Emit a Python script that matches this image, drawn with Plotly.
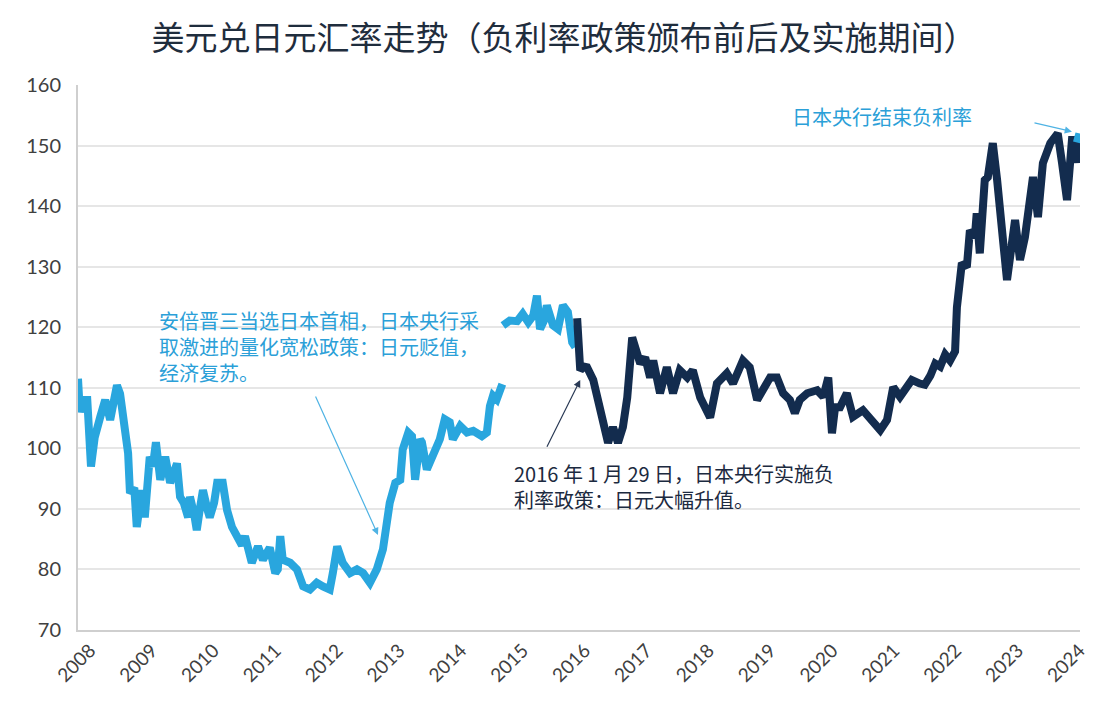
import plotly.graph_objects as go

# ---- data (decimal years, USD/JPY) ----
years_a = [2008.00, 2008.03, 2008.08, 2008.15, 2008.21, 2008.27, 2008.36, 2008.44, 2008.52, 2008.58,
           2008.63, 2008.68, 2008.73, 2008.81, 2008.84, 2008.91, 2008.95, 2009.03, 2009.08, 2009.16,
           2009.21, 2009.26, 2009.33, 2009.41, 2009.49, 2009.55, 2009.60, 2009.65, 2009.71, 2009.78,
           2009.81, 2009.88, 2009.92, 2009.97, 2010.02, 2010.09, 2010.13, 2010.20, 2010.25, 2010.34,
           2010.41, 2010.49, 2010.57, 2010.65, 2010.70, 2010.81, 2010.91, 2010.99, 2011.10, 2011.19,
           2011.23, 2011.27, 2011.31, 2011.43, 2011.54, 2011.64, 2011.75, 2011.86, 2011.96, 2012.07,
           2012.12, 2012.19, 2012.28, 2012.40, 2012.51, 2012.61, 2012.72, 2012.83, 2012.93, 2012.99,
           2013.04, 2013.13, 2013.21, 2013.25, 2013.34, 2013.40, 2013.45, 2013.53, 2013.56, 2013.64,
           2013.74, 2013.85, 2013.93, 2014.01, 2014.06, 2014.18, 2014.29, 2014.39, 2014.53, 2014.61,
           2014.66, 2014.71, 2014.77, 2014.82, 2014.86]
usdjpy_a = [111.5, 106.0, 108.0, 108.0, 97.0, 101.8, 105.2, 108.0, 104.7, 108.5,
            110.4, 109.0, 105.8, 99.2, 92.6, 93.5, 87.0, 93.1, 88.6, 98.6,
            97.0, 101.0, 94.8, 98.6, 94.3, 96.0, 97.5, 92.0, 91.0, 88.6,
            92.0, 89.0, 86.5, 90.0, 93.1, 90.0, 88.6, 91.0, 94.3, 94.3,
            89.8, 87.0, 85.4, 84.0, 85.5, 81.1, 83.8, 81.6, 83.6, 79.4,
            80.0, 85.5, 81.6, 81.1, 80.0, 77.2, 76.7, 77.8, 77.2, 76.7,
            79.4, 83.8, 81.1, 79.4, 80.0, 79.4, 77.8, 80.0, 83.3, 87.1,
            91.0, 94.3, 94.8, 99.8, 102.6, 102.0, 94.8, 101.5, 101.0, 96.5,
            99.3, 101.5, 104.8, 104.3, 101.5, 103.7, 102.6, 102.9, 102.0, 102.6,
            107.0, 108.7, 108.1, 110.3, 110.6]

years_b = [2014.87, 2014.98, 2015.10, 2015.19, 2015.28, 2015.36, 2015.42, 2015.47, 2015.53, 2015.58,
           2015.68, 2015.76, 2015.84, 2015.92, 2015.99, 2016.04]
usdjpy_b = [120.3, 121.1, 121.0, 122.2, 120.8, 121.9, 125.2, 119.7, 121.0, 123.6,
            120.3, 119.7, 123.6, 122.5, 117.5, 116.7]

years_c = [2016.07, 2016.12, 2016.18, 2016.23, 2016.33, 2016.41, 2016.49, 2016.57, 2016.65, 2016.73,
           2016.81, 2016.88, 2016.96, 2017.01, 2017.09, 2017.17, 2017.25, 2017.30, 2017.41, 2017.52,
           2017.62, 2017.73, 2017.85, 2017.94, 2018.06, 2018.22, 2018.33, 2018.49, 2018.59, 2018.75,
           2018.86, 2018.98, 2019.08, 2019.19, 2019.30, 2019.40, 2019.51, 2019.59, 2019.67, 2019.79,
           2019.95, 2020.05, 2020.13, 2020.16, 2020.19, 2020.24, 2020.32, 2020.43, 2020.53, 2020.69,
           2020.81, 2020.97, 2021.08, 2021.18, 2021.29, 2021.40, 2021.48, 2021.61, 2021.69, 2021.78,
           2021.86, 2021.94, 2022.02, 2022.10, 2022.18, 2022.21, 2022.29, 2022.37, 2022.42, 2022.50,
           2022.53, 2022.58, 2022.66, 2022.71, 2022.79, 2022.86, 2022.91, 2022.96, 2023.02, 2023.07,
           2023.15, 2023.23, 2023.31, 2023.39, 2023.44, 2023.52, 2023.60, 2023.72, 2023.84, 2023.91,
           2023.99, 2024.07, 2024.15, 2024.17]
usdjpy_c = [121.5, 112.9, 113.5, 113.4, 111.3, 108.0, 104.7, 100.9, 103.5, 100.9,
            103.5, 108.4, 118.3, 116.7, 114.0, 115.0, 111.7, 114.5, 109.1, 113.4,
            109.1, 112.9, 111.7, 112.9, 108.4, 105.1, 110.7, 112.4, 110.7, 114.5,
            113.4, 108.0, 110.1, 111.7, 111.7, 109.1, 108.0, 105.8, 108.0, 109.1,
            109.6, 108.5, 111.7, 108.0, 102.5, 106.8, 106.8, 109.1, 105.2, 106.3,
            104.7, 103.0, 104.7, 110.1, 108.5, 110.1, 111.3, 110.7, 110.5, 112.0,
            114.0, 113.5, 115.5, 114.5, 116.0, 123.3, 130.6, 129.9, 136.0, 134.9,
            138.8, 132.2, 144.3, 144.8, 150.4, 144.3, 137.7, 133.9, 127.8, 131.6,
            137.7, 131.1, 134.9, 141.0, 144.8, 138.2, 147.1, 150.4, 152.0, 147.1,
            141.0, 150.9, 150.9, 147.1]

years_d = [2024.15, 2024.19]
usdjpy_d = [150.5, 152.0]

tick_years = list(range(2008, 2025))
tick_labels = [str(y) for y in tick_years]

LIGHT = "#29a6de"
DARK = "#132c4e"

fig = go.Figure()
for xs, ys, col in [(years_a, usdjpy_a, LIGHT), (years_b, usdjpy_b, LIGHT),
                    (years_c, usdjpy_c, DARK), (years_d, usdjpy_d, LIGHT)]:
    fig.add_trace(go.Scatter(x=xs, y=ys, mode="lines",
                             line=dict(color=col, width=8),
                             showlegend=False, hoverinfo="skip"))

cjk = "Noto Sans CJK SC"
W, H = 1112, 705

fig.update_layout(
    width=W, height=H,
    margin=dict(l=70, r=40, t=77, b=83),
    paper_bgcolor="white", plot_bgcolor="white",
    title=dict(text="美元兑日元汇率走势（负利率政策颁布前后及实施期间）",
               x=0.5, xanchor="center", y=1 - 30 / H, yanchor="middle",
               font=dict(family=cjk, size=33, color="#1f2d3d")),
    xaxis=dict(range=[2008, 2024.2], tickmode="array", tickvals=tick_years,
               ticktext=tick_labels, tickangle=-45, showgrid=False,
               showline=True, linecolor="#cfcfcf", linewidth=2,
               ticks="", zeroline=False, automargin=False, ticklabelshift=12,
               tickfont=dict(family="Lato", size=19, color="#404040")),
    yaxis=dict(range=[70, 160], dtick=10, tick0=70, showgrid=True,
               gridcolor="#e6e6e6", gridwidth=2,
               showline=True, linecolor="#cfcfcf", linewidth=2,
               ticks="", zeroline=False, ticklabelstandoff=11, automargin=False,
               tickfont=dict(family="Lato", size=20, color="#404040")),
)

# text annotations
fig.add_annotation(x=2009.28, y=123.8, xref="x", yref="y", xanchor="left", yanchor="top",
                   text="安倍晋三当选日本首相，日本央行采<br>取激进的量化宽松政策：日元贬值，<br>经济复苏。",
                   showarrow=False, align="left",
                   font=dict(family=cjk, size=20, color="#2ba0d8"))
fig.add_annotation(x=2015.02, y=98.6, xref="x", yref="y", xanchor="left", yanchor="top",
                   text="2016 年 1 月 29 日，日本央行实施负<br>利率政策：日元大幅升值。",
                   showarrow=False, align="left",
                   font=dict(family=cjk, size=20, color="#1c2a40"))
fig.add_annotation(x=2019.51, y=157.6, xref="x", yref="y", xanchor="left", yanchor="top",
                   text="日本央行结束负利率",
                   showarrow=False, align="left",
                   font=dict(family=cjk, size=20, color="#2ba0d8"))

# arrows
for (hx, hy, tx, ty, col) in [(2012.85, 85.7, 2011.83, 108.8, "#4fb3e4"),
                              (2016.12, 111.3, 2015.57, 100.0, "#2a3a55"),
                              (2024.07, 152.3, 2023.44, 153.8, "#4fb3e4")]:
    fig.add_annotation(x=hx, y=hy, ax=tx, ay=ty, xref="x", yref="y", axref="x", ayref="y",
                       text="", showarrow=True, arrowhead=2, arrowsize=1.2,
                       arrowwidth=1.2, arrowcolor=col)

fig.write_html("out.html")
